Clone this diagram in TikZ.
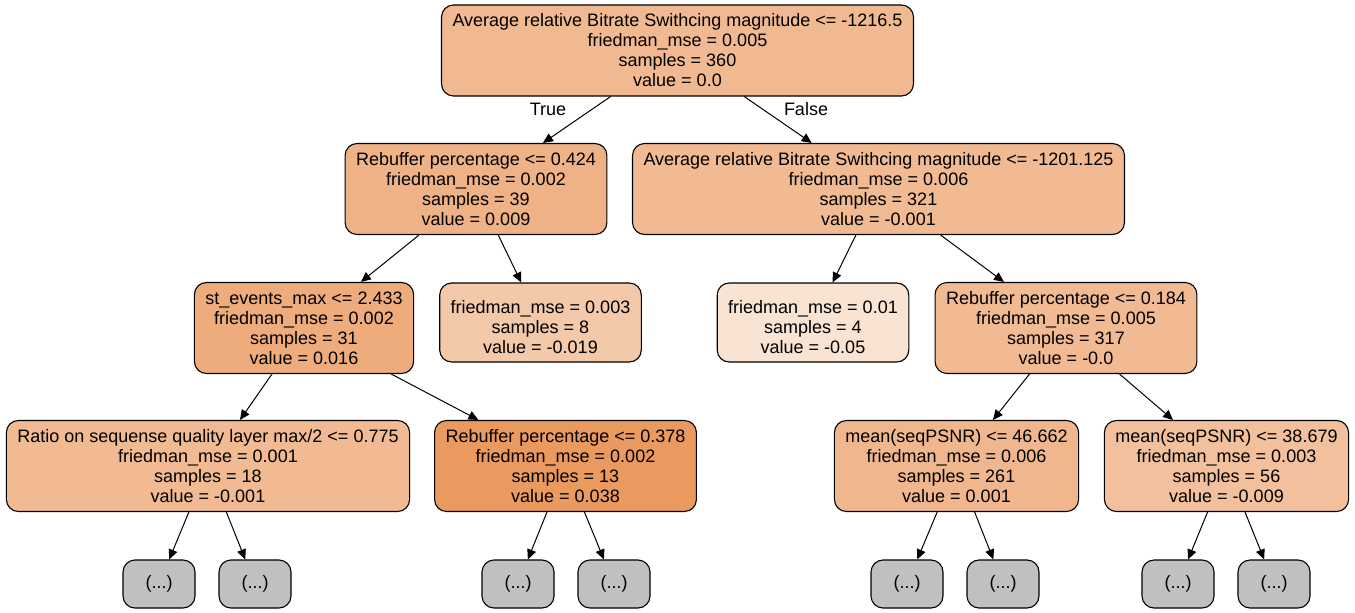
\documentclass[tikz,border=0pt]{standalone}
\usepackage{fontspec}
\setmainfont{Liberation Sans}
\usetikzlibrary{arrows.meta}

% node fills (orange by value)
\definecolor{cRoot}{RGB}{241,185,145}
\definecolor{cLeft}{RGB}{239,178,134}
\definecolor{cRight}{RGB}{241,186,146}
\definecolor{cEvents}{RGB}{238,171,124}
\definecolor{cLeafA}{RGB}{244,201,170}
\definecolor{cLeafB}{RGB}{249,227,211}
\definecolor{cRebufB}{RGB}{241,186,146}
\definecolor{cRatio}{RGB}{241,186,146}
\definecolor{cRebufA}{RGB}{234,153,95}
\definecolor{cMeanA}{RGB}{240,183,142}
\definecolor{cMeanB}{RGB}{242,192,157}
\definecolor{cHidden}{RGB}{192,192,192}

% taller first line for the 3-line leaves
\newcommand{\leafstrut}{\rule{0pt}{23pt}}

\begin{document}
\begin{tikzpicture}[x=1pt,y=-1pt,
  split/.style={draw=black, line width=1.1pt, rounded corners=12pt, align=center,
    inner xsep=11pt, inner ysep=2pt, minimum height=91pt, font=\fontsize{18}{20}\selectfont},
  leaf/.style={split, minimum height=79pt},
  hidden/.style={split, fill=cHidden, minimum width=72pt, minimum height=48pt},
  edge/.style={-{Triangle[length=10pt,width=9pt]}, line width=1pt},
  elabel/.style={font=\fontsize{18}{20}\selectfont}]

  \useasboundingbox (0,0) rectangle (1355,613);

  % level 0
  \node[split, fill=cRoot] (root) at (677.5,50.5)
    {Average relative Bitrate Swithcing magnitude <= -1216.5\\friedman\_mse = 0.005\\samples = 360\\value = 0.0};

  % level 1
  \node[split, fill=cLeft] (lft) at (476,189)
    {Rebuffer percentage <= 0.424\\friedman\_mse = 0.002\\samples = 39\\value = 0.009};
  \node[split, fill=cRight] (rgt) at (878.5,189)
    {Average relative Bitrate Swithcing magnitude <= -1201.125\\friedman\_mse = 0.006\\samples = 321\\value = -0.001};

  % level 2
  \node[split, fill=cEvents] (events) at (304,328)
    {st\_events\_max <= 2.433\\friedman\_mse = 0.002\\samples = 31\\value = 0.016};
  \node[leaf, fill=cLeafA] (leafa) at (540.5,322.5)
    {\leafstrut friedman\_mse = 0.003\\samples = 8\\value = -0.019};
  \node[leaf, fill=cLeafB] (leafb) at (813,322.5)
    {\leafstrut friedman\_mse = 0.01\\samples = 4\\value = -0.05};
  \node[split, fill=cRebufB] (rebufb) at (1066,328)
    {Rebuffer percentage <= 0.184\\friedman\_mse = 0.005\\samples = 317\\value = -0.0};

  % level 3
  \node[split, fill=cRatio] (ratio) at (208,466)
    {Ratio on sequense quality layer max/2 <= 0.775\\friedman\_mse = 0.001\\samples = 18\\value = -0.001};
  \node[split, fill=cRebufA] (rebufa) at (565.5,466)
    {Rebuffer percentage <= 0.378\\friedman\_mse = 0.002\\samples = 13\\value = 0.038};
  \node[split, fill=cMeanA] (meana) at (956.5,466)
    {mean(seqPSNR) <= 46.662\\friedman\_mse = 0.006\\samples = 261\\value = 0.001};
  \node[split, fill=cMeanB] (meanb) at (1226.5,466)
    {mean(seqPSNR) <= 38.679\\friedman\_mse = 0.003\\samples = 56\\value = -0.009};

  % truncated subtrees
  \node[hidden] (h1) at (159,584) {(...)};
  \node[hidden] (h2) at (255,584) {(...)};
  \node[hidden] (h3) at (518,584) {(...)};
  \node[hidden] (h4) at (614,584) {(...)};
  \node[hidden] (h5) at (907,584) {(...)};
  \node[hidden] (h6) at (1003,584) {(...)};
  \node[hidden] (h7) at (1178,584) {(...)};
  \node[hidden] (h8) at (1274,584) {(...)};

  % edges
  \draw[edge] (root) -- (lft);
  \draw[edge] (root) -- (rgt);
  \node[elabel] (ltrue) at (548,109) {True};
  \node[elabel] (lfalse) at (806,109) {False};
  \draw[edge] (lft) -- (events);
  \draw[edge] (lft) -- (leafa);
  \draw[edge] (rgt) -- (leafb);
  \draw[edge] (rgt) -- (rebufb);
  \draw[edge] (events) -- (ratio);
  \draw[edge] (events) -- (rebufa);
  \draw[edge] (rebufb) -- (meana);
  \draw[edge] (rebufb) -- (meanb);
  \draw[edge] (ratio) -- (h1);
  \draw[edge] (ratio) -- (h2);
  \draw[edge] (rebufa) -- (h3);
  \draw[edge] (rebufa) -- (h4);
  \draw[edge] (meana) -- (h5);
  \draw[edge] (meana) -- (h6);
  \draw[edge] (meanb) -- (h7);
  \draw[edge] (meanb) -- (h8);
\end{tikzpicture}
\end{document}
